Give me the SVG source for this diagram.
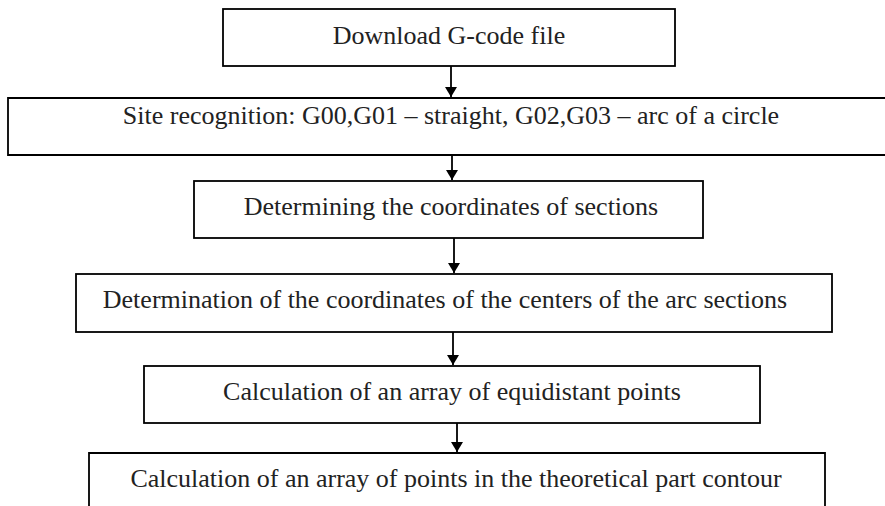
<svg xmlns="http://www.w3.org/2000/svg" width="885" height="506" viewBox="0 0 885 506">
<style>
.box{fill:#fff;stroke:#000;stroke-width:1.8}
.lbl{font-family:"Liberation Serif","Times New Roman",serif;font-size:26px;fill:#222;text-anchor:middle}
.con{stroke:#000;stroke-width:1.8;fill:none}
</style>
<defs>
<marker id="ah" viewBox="0 0 10 12" refX="10" refY="6" markerWidth="10" markerHeight="12" markerUnits="userSpaceOnUse" orient="auto">
<path d="M0,0 L10,6 L0,12 Z" fill="#000"/>
</marker>
</defs>
<rect width="885" height="506" fill="#fff"/>
<g id="connectors">
<line class="con" x1="451" y1="66" x2="451" y2="97" marker-end="url(#ah)"/>
<line class="con" x1="452" y1="155" x2="452" y2="180" marker-end="url(#ah)"/>
<line class="con" x1="454" y1="238" x2="454" y2="273" marker-end="url(#ah)"/>
<line class="con" x1="453" y1="332" x2="453" y2="365" marker-end="url(#ah)"/>
<line class="con" x1="457" y1="423" x2="457" y2="452" marker-end="url(#ah)"/>
</g>
<g id="n1">
<rect class="box" x="223" y="9" width="452" height="57"/>
<text class="lbl" x="449" y="44">Download G-code file</text>
</g>
<g id="n2">
<path class="box" d="M890,98 L8,98 L8,155 L890,155"/>
<text class="lbl" x="451" y="124">Site recognition: G00,G01 – straight, G02,G03 – arc of a circle</text>
</g>
<g id="n3">
<rect class="box" x="194" y="181" width="509" height="57"/>
<text class="lbl" x="451" y="215">Determining the coordinates of sections</text>
</g>
<g id="n4">
<rect class="box" x="76" y="274" width="756" height="58"/>
<text class="lbl" x="445" y="308">Determination of the coordinates of the centers of the arc sections</text>
</g>
<g id="n5">
<rect class="box" x="144" y="366" width="616" height="57"/>
<text class="lbl" x="452" y="400">Calculation of an array of equidistant points</text>
</g>
<g id="n6">
<path class="box" d="M89,515 L89,453 L825,453 L825,515"/>
<text class="lbl" x="456" y="487">Calculation of an array of points in the theoretical part contour</text>
</g>
</svg>
